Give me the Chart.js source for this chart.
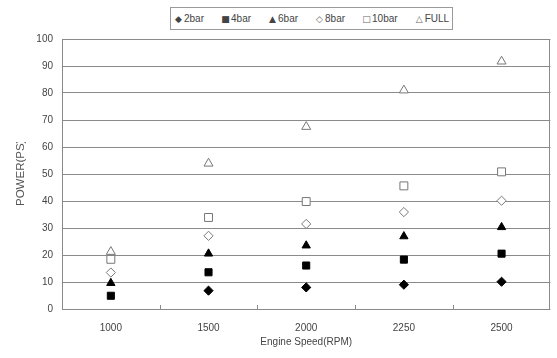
<!DOCTYPE html>
<html>
<head>
<meta charset="utf-8">
<script src="https://cdn.jsdelivr.net/npm/chart.js@4/dist/chart.umd.min.js"></script>
<style>
  html, body { margin: 0; padding: 0; background: #fff; }
  #wrap { position: relative; width: 557px; height: 358px; }
  canvas { position: absolute; left: 0; top: 0; }
  #legend {
    position: absolute; left: 170px; top: 7px; width: 283px; height: 23px;
    border: 1px solid #9a9a9a; background: #fff; box-sizing: border-box;
    font: 10px "Liberation Sans", Arial, sans-serif; color: #444;
    display: flex; align-items: center; padding-left: 3px; white-space: nowrap;
  }
  #legend span.item { margin-right: 17px; display: inline-flex; align-items: center; }
  #legend span.sym { font-family: "DejaVu Sans", sans-serif; font-size: 9px;
                     display: inline-block; width: 9px; text-align: center; margin-right: 1px; }
  #legend span.sym.open { color: #666; }
</style>
</head>
<body>
<div id="wrap">
  <canvas id="c" width="557" height="358"></canvas>
  <div id="legend"></div>
</div>
<script>
// Engine speed categories (RPM)
const categories = ['1000', '1500', '2000', '2250', '2500'];

// Power output per boost pressure
const seriesNames = ['2bar', '4bar', '6bar', '8bar', '10bar', 'FULL'];
const bar2  = [null, 6.8, 8.0, 9.0, 10.1];
const bar4  = [4.9, 13.6, 16.1, 18.3, 20.5];
const bar6  = [9.6, 20.5, 23.5, 26.9, 30.3];
const bar8  = [13.5, 27.1, 31.5, 35.9, 40.1];
const bar10 = [18.4, 33.9, 39.8, 45.6, 50.8];
const full  = [21.2, 53.9, 67.5, 81.0, 91.7];

// Y axis ticks
const yTicks = [0, 10, 20, 30, 40, 50, 60, 70, 80, 90, 100];

const seriesData = [bar2, bar4, bar6, bar8, bar10, full];
const styles = [
  { pointStyle: 'rectRot',  radius: 4.6, fill: '#000', stroke: '#000', sym: '◆', open: false },
  { pointStyle: 'rect',     radius: 5.0, fill: '#000', stroke: '#000', sym: '■', open: false },
  { pointStyle: 'triangle', radius: 4.8, fill: '#000', stroke: '#000', sym: '▲', open: false },
  { pointStyle: 'rectRot',  radius: 4.6, fill: '#fff', stroke: '#777', sym: '◇', open: true },
  { pointStyle: 'rect',     radius: 5.6, fill: '#fff', stroke: '#777', sym: '□', open: true },
  { pointStyle: 'triangle', radius: 5.2, fill: '#fff', stroke: '#777', sym: '△', open: true }
];

// Later series are drawn on top of earlier ones
const datasets = seriesData.map((d, i) => ({
  label: seriesNames[i],
  data: d,
  showLine: false,
  order: seriesData.length - i,
  pointStyle: styles[i].pointStyle,
  pointRadius: styles[i].radius,
  pointHoverRadius: styles[i].radius,
  pointBackgroundColor: styles[i].fill,
  pointBorderColor: styles[i].stroke,
  pointBorderWidth: 1,
  backgroundColor: styles[i].fill,
  borderColor: styles[i].stroke
}));

// Legend row
const legendEl = document.getElementById('legend');
seriesNames.forEach((name, i) => {
  const item = document.createElement('span');
  item.className = 'item';
  const sym = document.createElement('span');
  sym.className = 'sym' + (styles[i].open ? ' open' : '');
  sym.textContent = styles[i].sym;
  item.appendChild(sym);
  item.appendChild(document.createTextNode(name));
  legendEl.appendChild(item);
});

const FONT = '"Liberation Sans", Arial, sans-serif';

// Plot frame, inward ticks at category boundaries and the clipped y title
const framePlugin = {
  id: 'frame',
  beforeDatasetsDraw(chart) {
    const { ctx, chartArea: a } = chart;
    ctx.save();
    ctx.strokeStyle = '#8a8a8a';
    ctx.lineWidth = 1;
    ctx.strokeRect(Math.round(a.left) + 0.5, Math.round(a.top) + 0.5,
                   Math.round(a.right - a.left) - 1, Math.round(a.bottom - a.top));
    const n = categories.length;
    const step = (a.right - a.left) / n;
    ctx.beginPath();
    for (let i = 1; i < n; i++) {
      const x = Math.round(a.left + i * step) + 0.5;
      ctx.moveTo(x, a.bottom);
      ctx.lineTo(x, a.bottom - 4);
    }
    ctx.stroke();
    ctx.restore();
  },
  afterDraw(chart) {
    const { ctx } = chart;
    ctx.save();
    ctx.beginPath();
    ctx.rect(0, 142, 60, 80);
    ctx.clip();
    ctx.translate(21, 206);
    ctx.rotate(-Math.PI / 2);
    ctx.font = '11.5px ' + FONT;
    ctx.fillStyle = '#555';
    ctx.textAlign = 'left';
    ctx.textBaseline = 'middle';
    ctx.fillText('POWER(PS)', 0, 0);
    ctx.restore();
  }
};

new Chart(document.getElementById('c'), {
  type: 'line',
  data: { labels: categories, datasets },
  options: {
    responsive: false,
    animation: false,
    layout: { padding: { top: 39, right: 1, left: 0, bottom: 0 } },
    plugins: { legend: { display: false }, tooltip: { enabled: false } },
    scales: {
      x: {
        type: 'category',
        offset: true,
        afterFit(s) { s.height = 49; },
        grid: { display: false, drawTicks: false },
        border: { display: false },
        ticks: { color: '#444', font: { family: FONT, size: 10 }, padding: 13, maxRotation: 0 },
        title: { display: true, text: 'Engine Speed(RPM)', color: '#444',
                 font: { family: FONT, size: 10 }, padding: { top: 0, bottom: 10 } }
      },
      y: {
        min: 0, max: 100,
        afterFit(s) { s.width = 62; },
        afterBuildTicks(s) { s.ticks = yTicks.map(v => ({ value: v })); },
        grid: { color: '#8a8a8a', lineWidth: 1, drawTicks: false },
        border: { display: false },
        ticks: { color: '#444', font: { family: FONT, size: 10 }, padding: 9 }
      }
    }
  },
  plugins: [framePlugin]
});
</script>
</body>
</html>
